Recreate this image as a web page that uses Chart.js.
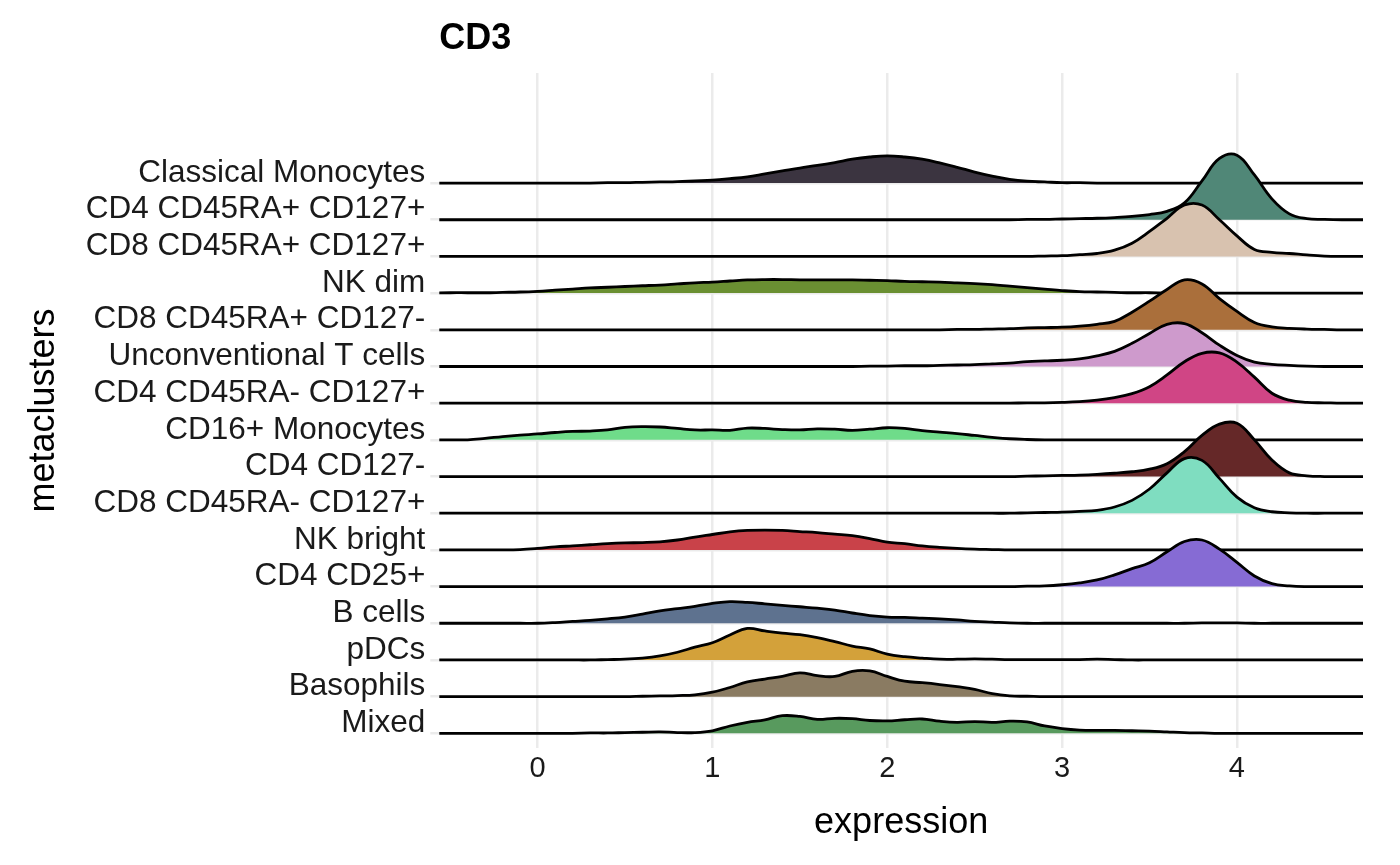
<!DOCTYPE html>
<html>
<head>
<meta charset="utf-8">
<script src="https://cdn.jsdelivr.net/npm/chart.js@4.4.0/dist/chart.umd.min.js"></script>
<style>
  html, body { margin: 0; padding: 0; background: #ffffff; }
  #wrap { width: 1400px; height: 865px; }
</style>
</head>
<body>
<div id="wrap"><canvas id="ridges" width="1400" height="865"></canvas></div>
<script>
// Ridgeline of CD3 expression per metacluster (top row first)
const plotTitle = "CD3";
const clusters = [
  "Classical Monocytes", "CD4 CD45RA+ CD127+", "CD8 CD45RA+ CD127+", "NK dim",
  "CD8 CD45RA+ CD127-", "Unconventional T cells", "CD4 CD45RA- CD127+", "CD16+ Monocytes",
  "CD4 CD127-", "CD8 CD45RA- CD127+", "NK bright", "CD4 CD25+",
  "B cells", "pDCs", "Basophils", "Mixed"
];
const clusterColors = [
  "#3b3440", "#508777", "#d8c2af", "#6a8f32",
  "#aa6f3b", "#ce9acc", "#d04585", "#6fdc8a",
  "#652828", "#7fddc0", "#c94249", "#866bd4",
  "#5e728f", "#d3a13a", "#8a7b62", "#589a5e"
];
const xTicks = [0, 1, 2, 3, 4];

// expression grid where densities were read
const xGrid = [
  -0.6, -0.5, -0.4, -0.3, -0.2, -0.1, 0.0, 0.1, 0.2, 0.3,
  0.4, 0.5, 0.6, 0.7, 0.8, 0.9, 1.0, 1.1, 1.2, 1.3,
  1.4, 1.5, 1.6, 1.7, 1.8, 1.9, 2.0, 2.1, 2.2, 2.3,
  2.4, 2.5, 2.6, 2.7, 2.8, 2.9, 3.0, 3.1, 3.2, 3.3,
  3.4, 3.5, 3.6, 3.7, 3.8, 3.9, 4.0, 4.1, 4.2, 4.3,
  4.4, 4.5, 4.6, 4.7, 4.8
];

// densities (one row = 1 unit)
const classicalMonocytes = [
  0, 0, 0, 0, 0, 0, 0, 0, 0, 0,
  0.01, 0.01, 0.02, 0.03, 0.04, 0.06, 0.08, 0.12, 0.17, 0.25,
  0.33, 0.41, 0.48, 0.56, 0.65, 0.71, 0.74, 0.71, 0.65, 0.55,
  0.43, 0.30, 0.19, 0.10, 0.05, 0.03, 0.01, 0.01, 0, 0,
  0, 0, 0, 0, 0, 0, 0, 0, 0, 0,
  0, 0, 0, 0, 0
];
const cd4RApos127pos = [
  0, 0, 0, 0, 0, 0, 0, 0, 0, 0,
  0, 0, 0, 0, 0, 0, 0, 0, 0, 0,
  0, 0, 0, 0, 0, 0, 0, 0, 0, 0,
  0, 0, 0, 0, 0.01, 0.01, 0.02, 0.03, 0.04, 0.06,
  0.09, 0.14, 0.23, 0.46, 1.06, 1.67, 1.76, 1.22, 0.57, 0.16,
  0.03, 0.01, 0, 0, 0
];
const cd8RApos127pos = [
  0, 0, 0, 0, 0, 0, 0, 0, 0, 0,
  0, 0, 0, 0, 0, 0, 0, 0, 0, 0,
  0, 0, 0, 0, 0, 0, 0, 0, 0, 0,
  0, 0, 0, 0, 0, 0.01, 0.02, 0.05, 0.08, 0.17,
  0.36, 0.68, 1.04, 1.40, 1.40, 1.00, 0.56, 0.19, 0.11, 0.08,
  0.04, 0.01, 0, 0, 0
];
const nkDim = [
  0, 0.01, 0.01, 0.01, 0.02, 0.03, 0.05, 0.08, 0.11, 0.14,
  0.16, 0.18, 0.20, 0.22, 0.25, 0.28, 0.30, 0.33, 0.36, 0.37,
  0.37, 0.36, 0.36, 0.36, 0.36, 0.35, 0.34, 0.32, 0.31, 0.30,
  0.28, 0.26, 0.23, 0.19, 0.15, 0.11, 0.07, 0.04, 0.03, 0.02,
  0.01, 0.01, 0, 0, 0, 0, 0, 0, 0, 0,
  0, 0, 0, 0, 0
];
const cd8RApos127neg = [
  0, 0, 0, 0, 0, 0, 0, 0, 0, 0,
  0, 0, 0, 0, 0, 0, 0, 0, 0, 0,
  0, 0, 0, 0, 0, 0, 0, 0, 0, 0,
  0.01, 0.01, 0.02, 0.03, 0.05, 0.06, 0.07, 0.10, 0.15, 0.23,
  0.48, 0.78, 1.10, 1.36, 1.25, 0.85, 0.50, 0.20, 0.08, 0.04,
  0.02, 0.01, 0, 0, 0
];
const unconventionalT = [
  0, 0, 0, 0, 0, 0, 0, 0, 0, 0,
  0, 0, 0, 0, 0, 0, 0, 0, 0, 0,
  0, 0, 0, 0, 0, 0.01, 0.01, 0.02, 0.02, 0.03,
  0.04, 0.05, 0.07, 0.09, 0.13, 0.15, 0.17, 0.21, 0.29, 0.41,
  0.63, 0.90, 1.15, 1.17, 0.92, 0.58, 0.30, 0.12, 0.06, 0.03,
  0.01, 0, 0, 0, 0
];
const cd4RAneg127pos = [
  0, 0, 0, 0, 0, 0, 0, 0, 0, 0,
  0, 0, 0, 0, 0, 0, 0, 0, 0, 0,
  0, 0, 0, 0, 0, 0, 0, 0, 0, 0,
  0, 0, 0, 0, 0.01, 0.01, 0.02, 0.04, 0.08, 0.15,
  0.26, 0.45, 0.77, 1.13, 1.36, 1.37, 1.12, 0.71, 0.27, 0.08,
  0.02, 0.01, 0, 0, 0
];
const cd16Monocytes = [
  0, 0, 0, 0.04, 0.09, 0.13, 0.16, 0.20, 0.23, 0.24,
  0.27, 0.34, 0.36, 0.35, 0.31, 0.27, 0.27, 0.26, 0.32, 0.31,
  0.28, 0.27, 0.30, 0.29, 0.26, 0.29, 0.33, 0.31, 0.25, 0.21,
  0.17, 0.12, 0.07, 0.03, 0.01, 0, 0, 0, 0, 0,
  0, 0, 0, 0, 0, 0, 0, 0, 0, 0,
  0, 0, 0, 0, 0
];
const cd4CD127neg = [
  0, 0, 0, 0, 0, 0, 0, 0, 0, 0,
  0, 0, 0, 0, 0, 0, 0, 0, 0, 0,
  0, 0, 0, 0, 0, 0, 0, 0, 0, 0,
  0, 0, 0, 0, 0.01, 0.02, 0.03, 0.04, 0.06, 0.09,
  0.13, 0.20, 0.35, 0.68, 1.12, 1.43, 1.45, 1.00, 0.45, 0.10,
  0.02, 0, 0, 0, 0
];
const cd8RAneg127pos = [
  0, 0, 0, 0, 0, 0, 0, 0, 0, 0,
  0, 0, 0, 0, 0, 0, 0, 0, 0, 0,
  0, 0, 0, 0, 0, 0, 0, 0, 0, 0,
  0, 0, 0, 0, 0.01, 0.02, 0.03, 0.05, 0.08, 0.17,
  0.35, 0.66, 1.10, 1.49, 1.44, 0.95, 0.44, 0.15, 0.04, 0.01,
  0, 0, 0, 0, 0
];
const nkBright = [
  0, 0, 0, 0, 0, 0.01, 0.04, 0.08, 0.11, 0.14,
  0.17, 0.19, 0.20, 0.22, 0.27, 0.35, 0.42, 0.49, 0.53, 0.54,
  0.53, 0.50, 0.47, 0.43, 0.39, 0.31, 0.21, 0.17, 0.11, 0.07,
  0.04, 0.02, 0.01, 0, 0, 0, 0, 0, 0, 0,
  0, 0, 0, 0, 0, 0, 0, 0, 0, 0,
  0, 0, 0, 0, 0
];
const cd4CD25pos = [
  0, 0, 0, 0, 0, 0, 0, 0, 0, 0,
  0, 0, 0, 0, 0, 0, 0, 0, 0, 0,
  0, 0, 0, 0, 0, 0, 0, 0, 0, 0,
  0, 0, 0, 0, 0.01, 0.02, 0.05, 0.10, 0.18, 0.32,
  0.49, 0.65, 0.95, 1.23, 1.27, 1.02, 0.66, 0.29, 0.08, 0.02,
  0, 0, 0, 0, 0
];
const bCells = [
  0, 0, 0, 0, 0, 0, 0, 0.02, 0.05, 0.08,
  0.12, 0.17, 0.25, 0.34, 0.40, 0.46, 0.54, 0.59, 0.57, 0.53,
  0.49, 0.45, 0.41, 0.36, 0.28, 0.21, 0.17, 0.16, 0.14, 0.12,
  0.09, 0.05, 0.03, 0.01, 0, 0, 0, 0, 0, 0,
  0, 0, 0, 0, 0.01, 0.01, 0.01, 0, 0, 0,
  0, 0, 0, 0, 0
];
const pDCs = [
  0, 0, 0, 0, 0, 0, 0, 0, 0, 0,
  0.01, 0.02, 0.05, 0.11, 0.21, 0.35, 0.47, 0.68, 0.86, 0.79,
  0.73, 0.69, 0.61, 0.50, 0.38, 0.30, 0.16, 0.09, 0.05, 0.02,
  0.02, 0.03, 0.02, 0.01, 0.01, 0.01, 0.01, 0.01, 0.02, 0.01,
  0, 0, 0, 0, 0, 0, 0, 0, 0, 0,
  0, 0, 0, 0, 0
];
const basophils = [
  0, 0, 0, 0, 0, 0, 0, 0, 0, 0,
  0, 0, 0.01, 0.02, 0.03, 0.05, 0.12, 0.25, 0.40, 0.48,
  0.55, 0.65, 0.57, 0.55, 0.69, 0.70, 0.55, 0.42, 0.38, 0.33,
  0.27, 0.20, 0.08, 0.02, 0.01, 0, 0, 0, 0, 0,
  0, 0, 0, 0, 0, 0, 0, 0, 0, 0,
  0, 0, 0, 0, 0
];
const mixed = [
  0, 0, 0, 0, 0, 0, 0, 0, 0, 0.01,
  0.01, 0.02, 0.03, 0.04, 0.02, 0.02, 0.07, 0.20, 0.30, 0.37,
  0.48, 0.46, 0.38, 0.41, 0.40, 0.35, 0.34, 0.37, 0.39, 0.33,
  0.30, 0.32, 0.30, 0.33, 0.31, 0.20, 0.13, 0.09, 0.08, 0.08,
  0.07, 0.06, 0.04, 0.02, 0.01, 0, 0, 0, 0, 0,
  0, 0, 0, 0, 0
];

const ridgeSeries = [
  classicalMonocytes, cd4RApos127pos, cd8RApos127pos, nkDim,
  cd8RApos127neg, unconventionalT, cd4RAneg127pos, cd16Monocytes,
  cd4CD127neg, cd8RAneg127pos, nkBright, cd4CD25pos,
  bCells, pDCs, basophils, mixed
];

const fontFamily = "'Liberation Sans', Arial, Helvetica, sans-serif";
const nRows = clusters.length;

// each ridge sits on its own baseline; lower rows are painted on top
const datasets = clusters.map(function (name, i) {
  const base = nRows - i;
  return {
    type: "line",
    label: name,
    data: xGrid.map(function (x, j) { return { x: x, y: base + ridgeSeries[i][j] }; }),
    fill: { value: base },
    backgroundColor: clusterColors[i],
    borderColor: "#000000",
    borderWidth: 2.8,
    borderJoinStyle: "round",
    pointRadius: 0,
    tension: 0.4,
    clip: 0,
    order: base
  };
});

// draws the plot title flush with the panel's left edge
const titlePlugin = {
  id: "panelTitle",
  afterDraw: function (chart) {
    const ctx = chart.ctx;
    ctx.save();
    ctx.font = "bold 36px " + fontFamily;
    ctx.fillStyle = "#000000";
    ctx.textAlign = "left";
    ctx.textBaseline = "middle";
    ctx.fillText(plotTitle, chart.chartArea.left, 39);
    ctx.restore();
  }
};

const ctx = document.getElementById("ridges").getContext("2d");
new Chart(ctx, {
  type: "line",
  data: { datasets: datasets },
  plugins: [titlePlugin],
  options: {
    responsive: false,
    animation: false,
    layout: { padding: { top: 73, right: 37, bottom: 0, left: 0 } },
    plugins: {
      legend: { display: false },
      tooltip: { enabled: false },
      title: { display: false }
    },
    scales: {
      x: {
        type: "linear",
        min: -0.562,
        max: 4.721,
        afterBuildTicks: function (scale) {
          scale.ticks = xTicks.map(function (v) { return { value: v }; });
        },
        afterFit: function (scale) { scale.height = 117; },
        grid: { color: "#ebebeb", lineWidth: 2.5, drawTicks: false },
        border: { display: false },
        ticks: {
          font: { family: fontFamily, size: 29 },
          color: "#1a1a1a",
          padding: 4
        },
        title: {
          display: true,
          text: "expression",
          font: { family: fontFamily, size: 36 },
          color: "#000000",
          padding: { top: 0, bottom: 20 }
        }
      },
      y: {
        type: "linear",
        min: 0.6,
        max: 19.0,
        afterBuildTicks: function (scale) {
          scale.ticks = clusters.map(function (_, i) { return { value: nRows - i }; });
        },
        afterFit: function (scale) { scale.width = 439.3; },
        grid: { color: "#ebebeb", lineWidth: 2.5, drawTicks: true, tickLength: 9 },
        border: { display: false },
        ticks: {
          autoSkip: false,
          font: { family: fontFamily, size: 31.5 },
          color: "#1a1a1a",
          padding: 5,
          labelOffset: -10,
          callback: function (value) { return clusters[nRows - value]; }
        },
        title: {
          display: true,
          text: "metaclusters",
          font: { family: fontFamily, size: 36 },
          color: "#000000",
          padding: { top: 22, bottom: 0 }
        }
      }
    }
  }
});
</script>
</body>
</html>
